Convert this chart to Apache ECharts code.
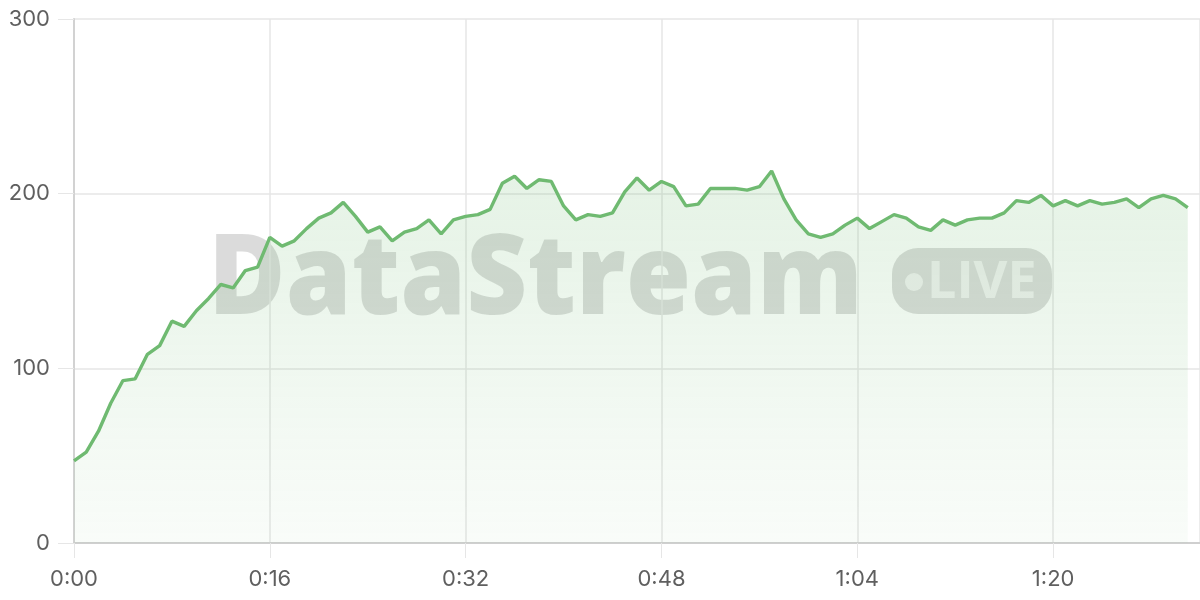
<!DOCTYPE html>
<html>
<head>
<meta charset="utf-8">
<script src="https://cdn.jsdelivr.net/npm/echarts@6/dist/echarts.min.js"></script>
<style>
html,body{margin:0;padding:0;background:#fff;}
#chart{width:1200px;height:600px;}
</style>
</head>
<body>
<div id="chart"></div>
<script>
// elapsed seconds
const seconds = [0,1,2,3,4,5,6,7,8,9,10,11,12,13,14,15,16,17,18,19,20,21,22,23,24,25,26,27,28,29,30,31,32,33,34,35,36,37,38,39,40,41,42,43,44,45,46,47,48,49,50,51,52,53,54,55,56,57,58,59,60,61,62,63,64,65,66,67,68,69,70,71,72,73,74,75,76,77,78,79,80,81,82,83,84,85,86,87,88,89,90,91];
const values = [47,52,64,80,93,94,108,113,127,124,133,140,148,146,156,158,175,170,173,180,186,189,195,187,178,181,173,178,180,185,177,185,187,188,191,206,210,203,208,207,193,185,188,187,189,201,209,202,207,204,193,194,203,203,203,202,204,213,197,185,177,175,177,182,186,180,184,188,186,181,179,185,182,185,186,186,189,196,195,199,193,196,193,196,194,195,197,192,197,199,197,192];
const yTicks = [0,100,200,300];
const xTickSeconds = [0,16,32,48,64,80];
const watermarkText = 'DataStream';
const badgeText = 'LIVE';

const chart = echarts.init(document.getElementById('chart'));
const fmt = v => Math.floor(v/60) + ':' + String(v%60).padStart(2,'0');
const labelStyle = {color:'#5f5f5f', fontSize:22, fontFamily:'Inter, Roboto, sans-serif'};
const gridColor = '#e6e6e6';

chart.setOption({
  animation:false,
  grid:{left:74, right:0, top:19, bottom:57, containLabel:false},
  xAxis:{
    type:'value', min:0, max:92, interval:16,
    axisLine:{show:true, lineStyle:{color:'#cfcfcf', width:2}},
    axisTick:{show:true, length:15, lineStyle:{color:gridColor}},
    axisLabel:Object.assign({margin:25, showMaxLabel:false, formatter:v => xTickSeconds.includes(v) ? fmt(v) : ''}, labelStyle),
    splitLine:{show:true, lineStyle:{color:gridColor, width:1.5}}
  },
  yAxis:{
    type:'value', min:yTicks[0], max:yTicks[yTicks.length-1], interval:100,
    axisLine:{show:true, lineStyle:{color:'#d2d2d2', width:2}},
    axisTick:{show:true, length:16, lineStyle:{color:gridColor}},
    axisLabel:Object.assign({margin:24}, labelStyle),
    splitLine:{show:true, lineStyle:{color:gridColor, width:1.5}}
  },
  graphic:[
    {type:'text', z:0, x:208, y:226, scaleX:0.945, style:{x:0, y:0, text:watermarkText, font:'800 112px "Open Sans", sans-serif', fill:'rgba(0,0,0,0.14)', verticalAlign:'top'}},
    {type:'rect', z:0, shape:{x:892, y:248, width:160, height:66, r:26}, style:{fill:'rgba(0,0,0,0.14)'}},
    {type:'circle', z:0, shape:{cx:914, cy:282, r:9}, style:{fill:'rgba(255,255,255,0.6)'}},
    {type:'text', z:0, style:{x:927, y:283, text:badgeText, font:'bold 52px "Open Sans", sans-serif', fill:'rgba(255,255,255,0.6)', verticalAlign:'middle'}}
  ],
  series:[{
    type:'line',
    data:seconds.map((s,i)=>[s, values[i]]),
    showSymbol:false,
    smooth:false,
    lineStyle:{color:'#6fba71', width:3.4},
    itemStyle:{color:'#6fba71'},
    areaStyle:{color:new echarts.graphic.LinearGradient(0,0,0,1,[
      {offset:0, color:'rgba(111,186,113,0.26)'},
      {offset:1, color:'rgba(111,186,113,0.06)'}
    ])}
  }]
});
</script>
</body>
</html>
